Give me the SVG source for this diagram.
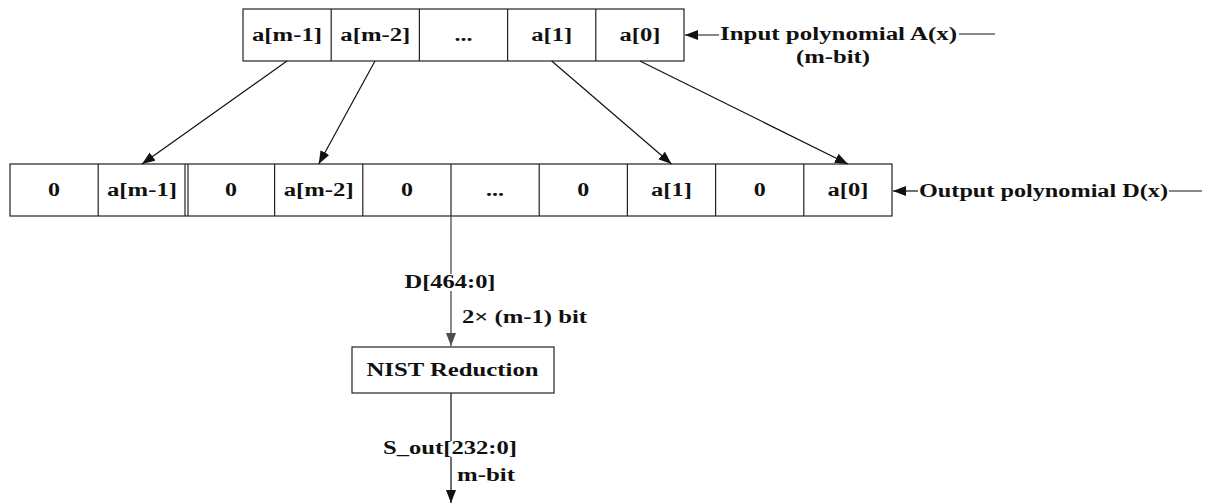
<svg xmlns="http://www.w3.org/2000/svg" width="1207" height="504" viewBox="0 0 1207 504">
<defs>
<style>
.t{font-family:"Liberation Serif","Times New Roman",serif;font-weight:bold;font-size:18px;fill:#111}
.m{text-anchor:middle}
.box{fill:#fff;stroke:#222;stroke-width:1.2}
.ln{stroke:#222;stroke-width:1.2;fill:none}
.cn{stroke:#111;stroke-width:1.2;fill:none}
.gr{stroke:#4d4d4d;stroke-width:1.3;fill:none}
</style>
<marker id="ah" markerUnits="userSpaceOnUse" markerWidth="16" markerHeight="12" refX="13" refY="5" orient="auto">
<path d="M0,0 L13,5 L0,10 z" fill="#111"/>
</marker>
<marker id="ahg" markerUnits="userSpaceOnUse" markerWidth="16" markerHeight="12" refX="13" refY="5" orient="auto">
<path d="M0,0 L13,5 L0,10 z" fill="#4d4d4d"/>
</marker>
</defs>
<rect width="1207" height="504" fill="#fff"/>

<g id="input-register">
<rect class="box" x="243" y="9" width="441" height="52"/>
<line class="ln" x1="331.2" y1="9" x2="331.2" y2="61"/>
<line class="ln" x1="419.4" y1="9" x2="419.4" y2="61"/>
<line class="ln" x1="507.6" y1="9" x2="507.6" y2="61"/>
<line class="ln" x1="595.8" y1="9" x2="595.8" y2="61"/>
<text class="t m" x="287" y="41" textLength="70" lengthAdjust="spacingAndGlyphs">a[m-1]</text>
<text class="t m" x="375.3" y="41" textLength="70" lengthAdjust="spacingAndGlyphs">a[m-2]</text>
<text class="t m" x="463.5" y="41" textLength="18" lengthAdjust="spacingAndGlyphs">...</text>
<text class="t m" x="551.7" y="41" textLength="41" lengthAdjust="spacingAndGlyphs">a[1]</text>
<text class="t m" x="639.9" y="41" textLength="41" lengthAdjust="spacingAndGlyphs">a[0]</text>
</g>

<g id="input-label">
<text class="t" x="720" y="40" textLength="237" lengthAdjust="spacingAndGlyphs">Input polynomial A(x)</text>
<text class="t m" x="833" y="63" textLength="74" lengthAdjust="spacingAndGlyphs">(m-bit)</text>
</g>

<g id="output-register">
<rect class="box" x="10" y="164" width="882" height="52"/>
<line class="ln" x1="98.2" y1="164" x2="98.2" y2="216"/>
<line class="ln" x1="185" y1="164" x2="185" y2="216"/>
<line class="ln" x1="188" y1="164" x2="188" y2="216"/>
<line class="ln" x1="274.6" y1="164" x2="274.6" y2="216"/>
<line class="ln" x1="362.8" y1="164" x2="362.8" y2="216"/>
<line class="ln" x1="451" y1="164" x2="451" y2="216"/>
<line class="ln" x1="539.2" y1="164" x2="539.2" y2="216"/>
<line class="ln" x1="627.4" y1="164" x2="627.4" y2="216"/>
<line class="ln" x1="715.6" y1="164" x2="715.6" y2="216"/>
<line class="ln" x1="803.8" y1="164" x2="803.8" y2="216"/>
<text class="t m" x="54" y="196" textLength="12" lengthAdjust="spacingAndGlyphs">0</text>
<text class="t m" x="142" y="196" textLength="70" lengthAdjust="spacingAndGlyphs">a[m-1]</text>
<text class="t m" x="231" y="196" textLength="12" lengthAdjust="spacingAndGlyphs">0</text>
<text class="t m" x="318.7" y="196" textLength="70" lengthAdjust="spacingAndGlyphs">a[m-2]</text>
<text class="t m" x="407" y="196" textLength="12" lengthAdjust="spacingAndGlyphs">0</text>
<text class="t m" x="495" y="196" textLength="18" lengthAdjust="spacingAndGlyphs">...</text>
<text class="t m" x="583.3" y="196" textLength="12" lengthAdjust="spacingAndGlyphs">0</text>
<text class="t m" x="671.5" y="196" textLength="41" lengthAdjust="spacingAndGlyphs">a[1]</text>
<text class="t m" x="759.7" y="196" textLength="12" lengthAdjust="spacingAndGlyphs">0</text>
<text class="t m" x="847.9" y="196" textLength="41" lengthAdjust="spacingAndGlyphs">a[0]</text>
</g>

<g id="output-label">
<text class="t" x="919" y="197" textLength="249" lengthAdjust="spacingAndGlyphs">Output polynomial D(x)</text>
</g>

<g id="nist-reduction">
<rect class="box" x="352" y="347" width="202" height="46"/>
<text class="t m" x="452.5" y="376" textLength="172" lengthAdjust="spacingAndGlyphs">NIST Reduction</text>
</g>

<g id="signal-labels">
<text class="t m" x="450" y="288" textLength="91" lengthAdjust="spacingAndGlyphs">D[464:0]</text>
<text class="t" x="462" y="323" textLength="125" lengthAdjust="spacingAndGlyphs">2× (m-1) bit</text>
<text class="t m" x="450" y="454" textLength="134" lengthAdjust="spacingAndGlyphs">S_out[232:0]</text>
<text class="t" x="457" y="481" textLength="58" lengthAdjust="spacingAndGlyphs">m-bit</text>
</g>

<g id="connectors">
<line class="cn" x1="287" y1="61" x2="142" y2="164" marker-end="url(#ah)"/>
<line class="cn" x1="375" y1="61" x2="318.7" y2="164" marker-end="url(#ah)"/>
<line class="cn" x1="551.7" y1="61" x2="671.5" y2="164" marker-end="url(#ah)"/>
<line class="cn" x1="639.9" y1="61" x2="847.9" y2="164" marker-end="url(#ah)"/>
<line class="cn" x1="719" y1="35" x2="685" y2="35" marker-end="url(#ah)"/>
<line class="cn" x1="959" y1="34" x2="995" y2="34"/>
<line class="cn" x1="918" y1="191" x2="893" y2="191" marker-end="url(#ah)"/>
<line class="cn" x1="1169" y1="191" x2="1202" y2="191"/>
<line class="gr" x1="451" y1="216" x2="451" y2="274"/>
<line class="gr" x1="451" y1="291" x2="451" y2="346" marker-end="url(#ahg)"/>
<line class="cn" x1="451" y1="393" x2="451" y2="441"/>
<line class="cn" x1="451" y1="457" x2="451" y2="503" marker-end="url(#ah)"/>
</g>
</svg>
